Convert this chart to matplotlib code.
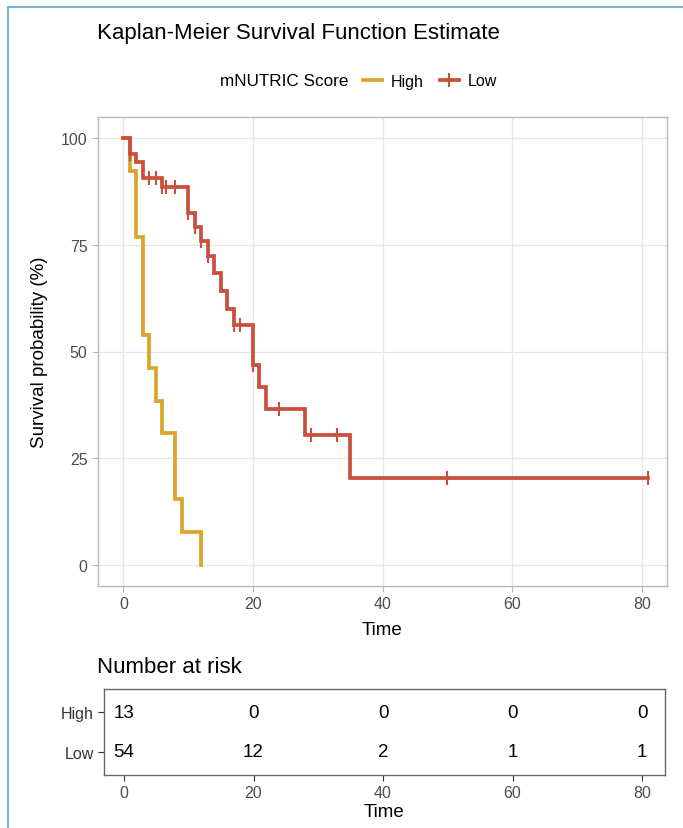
import numpy as np
import matplotlib
matplotlib.use("Agg")
import matplotlib.pyplot as plt
from matplotlib.lines import Line2D

plt.rcParams['font.family'] = ['Liberation Sans', 'DejaVu Sans']

# Kaplan-Meier steps (time, survival %)
high_times = [0, 1, 2, 3, 4, 5, 6, 8, 9, 12]
high_surv = [100, 92.3, 76.9, 53.8, 46.2, 38.5, 30.8, 15.4, 7.7, 0]
high_end = 12

low_times = [0, 1, 2, 3, 6, 10, 11, 12, 13, 14, 15, 16, 17, 20, 21, 22, 28, 35]
low_surv = [100, 96.3, 94.4, 90.7, 88.5, 82.6, 79.3, 75.8, 72.3, 68.4, 64.1,
            60.0, 56.2, 46.8, 41.6, 36.4, 30.3, 20.3]
low_end = 81
low_censor = [1, 4, 5, 6, 6.6, 8, 10, 11, 12, 13, 17, 18, 20, 24, 29, 33, 50, 81]

risk_times = [0, 20, 40, 60, 80]
risk_high = [13, 0, 0, 0, 0]
risk_low = [54, 12, 2, 1, 1]

c_high = '#D9A62B'
c_low = '#C9503D'
grid_c = '#e6e6e6'
border_c = '#b8b8b8'
tick_c = '#4d4d4d'

W, H = 683, 829
fig = plt.figure(figsize=(W / 100, H / 100), dpi=100)


def box(l, t, r, b):
    return [l / W, 1 - b / H, (r - l) / W, (b - t) / H]


def step_level(times, surv, t):
    idx = np.searchsorted(times, t, side='right') - 1
    return surv[idx]


# main survival panel
ax = fig.add_axes(box(98, 118, 667, 587))
ax.step(high_times + [high_end], high_surv + [high_surv[-1]], where='post',
        color=c_high, lw=2.7, solid_joinstyle='miter')
ax.step(low_times + [low_end], low_surv + [low_surv[-1]], where='post',
        color=c_low, lw=2.7, solid_joinstyle='miter')
cy = [step_level(low_times, low_surv, t) for t in low_censor]
ax.plot(low_censor, cy, ls='none', marker='|', ms=10, mew=1.5, color=c_low)

ax.set_xlim(-3.92, 83.9)
ax.set_ylim(-5, 105)
ax.set_xticks([0, 20, 40, 60, 80])
ax.set_yticks([0, 25, 50, 75, 100])
ax.grid(True, color=grid_c, lw=0.9)
ax.set_axisbelow(True)
for s in ax.spines.values():
    s.set_color(border_c)
    s.set_linewidth(1.0)
ax.tick_params(colors=border_c, labelcolor=tick_c, labelsize=11.5, length=4)
ax.set_xlabel('Time', fontsize=13.5, labelpad=7)
ax.set_ylabel('Survival probability (%)', fontsize=13.5, labelpad=9)

fig.text(97 / W, 1 - 33 / H, 'Kaplan-Meier Survival Function Estimate',
         fontsize=16, ha='left', va='center')

# legend
fig.text(220 / W, 1 - 82 / H, 'mNUTRIC Score', fontsize=12.3, ha='left', va='center')
handles = [Line2D([], [], color=c_high, lw=2.7),
           Line2D([], [], color=c_low, lw=2.7, marker='|', ms=10, mew=1.5)]
fig.legend(handles, ['High', 'Low'], ncol=2, loc='center left',
           bbox_to_anchor=(355 / W, 1 - 82 / H), frameon=False, fontsize=11.5,
           handlelength=1.2, handletextpad=0.55, columnspacing=1.0,
           borderpad=0)

# risk table
fig.text(97 / W, 1 - 668 / H, 'Number at risk', fontsize=16, ha='left', va='center')
tx = fig.add_axes(box(104, 690, 665, 776))
for t, n in zip(risk_times, risk_high):
    tx.text(t, 2, str(n), ha='center', va='center', fontsize=13.5)
for t, n in zip(risk_times, risk_low):
    tx.text(t, 1, str(n), ha='center', va='center', fontsize=13.5)
tx.set_xlim(-3.09, 83.55)
tx.set_ylim(0.4, 2.6)
tx.set_xticks(risk_times)
tx.set_yticks([1, 2])
tx.set_yticklabels(['Low', 'High'])
tx.get_yticklabels()[0].set_color(c_low)
tx.get_yticklabels()[1].set_color(c_high)
for s in tx.spines.values():
    s.set_color('#666666')
    s.set_linewidth(1.0)
tx.tick_params(axis='x', colors='#333333', labelcolor=tick_c, labelsize=11.5, length=4)
tx.tick_params(axis='y', colors='#333333', labelsize=11.5, length=4)
tx.set_xlabel('Time', fontsize=13.5, labelpad=2)

# blue frame around figure
frame_c = '#6FA8D3'
fig.add_artist(Line2D([8 / W, 8 / W], [0, 1 - 8 / H], color=frame_c, lw=1.3))
fig.add_artist(Line2D([8 / W, 1], [1 - 8 / H, 1 - 8 / H], color=frame_c, lw=1.3))

fig.savefig('out.png', dpi=100)
